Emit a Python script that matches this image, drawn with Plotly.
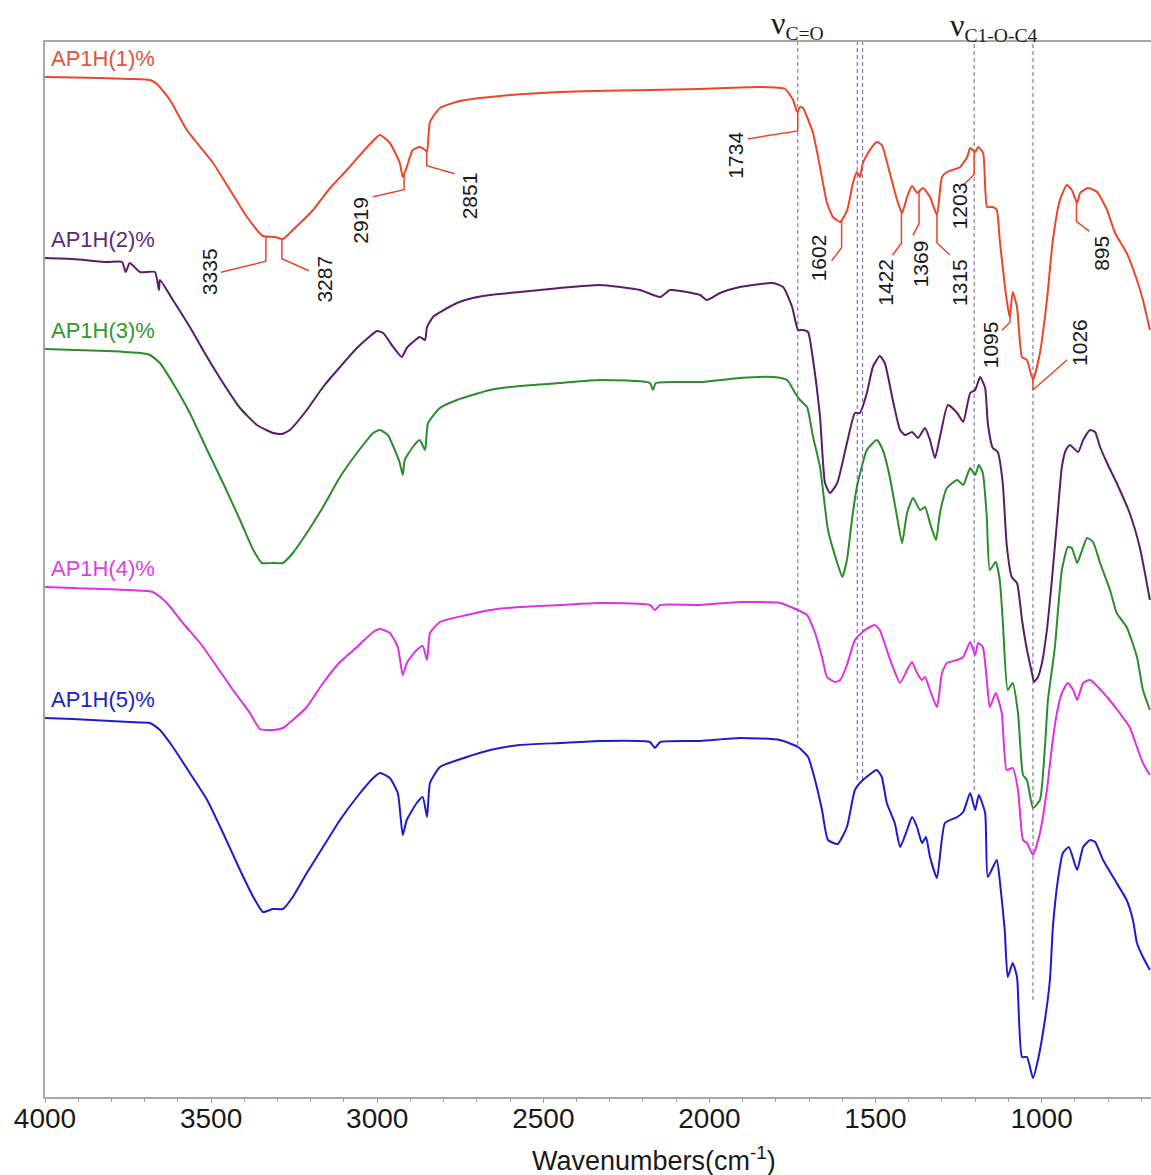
import numpy as np
import plotly.graph_objects as go

# FTIR spectra of the AP1H films: (wavenumber cm-1, offset transmittance a.u.)
ap1h1 = [(4000,102.0),(3834,101.9),(3745,101.8),(3684,101.7),(3663,101.3),(3624,99.7),(3573,96.7),(3494,93.4),
         (3443,90.7),(3392,88.0),(3344,86.1),(3308,86.0),(3284,85.8),(3254,86.7),(3193,88.7),(3142,90.9),(3091,92.7),
         (3030,95.0),(2992,96.2),(2962,95.4),(2932,93.4),(2923,92.0),(2911,93.0),(2893,94.7),(2872,95.0),(2856,94.7),
         (2850,94.5),(2841,97.5),(2811,98.9),(2751,99.6),(2630,100.1),(2450,100.5),(2179,100.7),(2028,100.8),
         (1848,101.0),(1772,100.8),(1748,99.7),(1736,98.5),(1727,99.0),(1718,98.9),(1706,98.0),(1688,96.4),
         (1667,93.0),(1646,89.4),(1628,88.0),(1606,87.5),(1585,88.7),(1568,91.4),(1556,92.5),(1547,92.0),(1538,93.4),
         (1517,94.7),(1496,95.5),(1481,95.2),(1457,92.4),(1435,89.7),(1420,88.4),(1405,90.0),(1390,91.1),(1375,90.4),
         (1357,90.9),(1336,90.0),(1315,88.2),(1300,92.0),(1285,92.5),(1245,93.0),(1224,94.0),(1215,94.9),(1200,94.5),
         (1191,95.0),(1176,94.4),(1164,89.0),(1147,89.0),(1135,88.7),(1126,85.7),(1105,79.7),(1096,78.0),(1087,80.5),
         (1074,79.0),(1059,74.0),(1044,73.7),(1026,71.7),(1005,74.4),(984,79.7),(966,85.7),(945,89.7),(924,91.2),
         (909,90.7),(893,89.4),(884,90.4),(860,90.9),(833,90.5),(803,88.7),(779,86.4),(744,84.4),(713,81.7),
         (695,79.7),(674,76.7)]

ap1h2 = [(4000,83.9),(3916,83.8),(3813,83.5),(3768,83.5),(3757,82.5),(3745,83.4),(3714,82.5),(3669,82.5),(3657,80.7),
         (3654,81.7),(3615,79.7),(3564,77.0),(3512,74.0),(3464,71.4),(3413,68.9),(3362,67.2),(3314,66.4),(3287,66.3),
         (3263,66.7),(3212,68.7),(3163,71.0),(3112,73.0),(3061,74.9),(3000,76.6),(2982,76.4),(2952,75.0),(2926,74.0),
         (2911,74.9),(2872,76.0),(2856,75.7),(2850,77.0),(2832,78.0),(2760,79.4),(2712,79.9),(2660,80.2),(2571,80.5),
         (2450,80.9),(2330,81.2),(2209,80.7),(2148,80.0),(2118,80.7),(2028,80.2),(2008,79.7),(1968,80.4),(1908,81.0),
         (1809,81.4),(1778,81.0),(1751,79.0),(1733,76.7),(1718,76.7),(1703,76.5),(1688,73.7),(1667,68.0),(1652,61.4),
         (1637,60.4),(1615,61.4),(1586,65.4),(1562,68.4),(1547,68.4),(1526,70.4),(1508,73.0),(1487,74.1),(1472,73.4),
         (1448,69.7),(1426,66.7),(1411,66.2),(1390,66.5),(1372,65.9),(1351,66.9),(1336,65.7),(1321,63.9),(1306,66.0),
         (1282,69.2),(1254,68.4),(1236,67.5),(1215,70.4),(1200,70.7),(1185,72.0),(1170,70.9),(1162,67.4),(1147,64.9),
         (1132,64.5),(1117,61.4),(1105,55.2),(1090,52.0),(1074,51.4),(1059,47.7),(1044,44.7),(1029,42.4),(1023,41.5),
         (1011,42.0),(999,43.4),(984,46.7),(969,51.7),(954,57.4),(939,63.0),(927,64.7),(915,65.2),(890,64.5),
         (875,65.7),(854,66.7),(839,66.5),(824,65.0),(803,63.4),(774,61.4),(735,58.4),(704,54.9),(674,49.7)]

ap1h3 = [(4000,74.8),(3813,74.6),(3714,74.4),(3684,74.2),(3654,73.4),(3615,71.4),(3564,68.4),(3512,64.7),(3464,61.4),
         (3413,57.7),(3373,54.7),(3347,53.4),(3314,53.4),(3284,53.4),(3254,54.4),(3212,56.4),(3163,59.0),(3112,62.0),
         (3061,64.4),(3012,66.4),(2992,66.7),(2968,66.2),(2947,64.7),(2932,63.4),(2923,62.2),(2917,63.7),(2893,65.0),
         (2872,65.7),(2856,64.7),(2847,67.4),(2811,68.9),(2760,69.7),(2660,70.7),(2571,71.1),(2450,71.4),(2330,71.7),
         (2179,71.4),(2170,70.7),(2161,71.4),(2028,71.5),(1908,71.9),(1809,72.0),(1766,71.7),(1742,70.4),(1727,69.7),
         (1706,69.0),(1688,66.0),(1667,63.0),(1643,56.7),(1615,53.4),(1600,52.0),(1586,53.7),(1571,57.7),(1556,61.0),
         (1526,64.7),(1496,65.7),(1478,64.7),(1457,62.0),(1435,58.0),(1420,55.4),(1405,58.4),(1387,59.9),(1366,58.7),
         (1351,59.0),(1336,57.4),(1318,55.7),(1306,58.4),(1285,60.9),(1254,61.7),(1236,61.2),(1215,62.9),(1200,62.2),
         (1189,63.2),(1177,62.4),(1165,58.0),(1156,52.7),(1138,53.5),(1126,51.7),(1117,47.7),(1102,40.7),(1087,41.4),
         (1071,38.4),(1056,32.2),(1044,31.7),(1026,28.9),(1005,29.7),(990,35.0),(981,39.7),(969,42.7),(960,45.0),
         (939,52.7),(921,55.0),(909,54.9),(893,53.4),(878,54.7),(863,55.9),(845,55.5),(824,53.4),(794,50.7),
         (774,48.4),(744,47.0),(713,44.0),(695,40.7),(674,38.7)]

ap1h4 = [(4000,51.0),(3916,50.9),(3745,50.7),(3675,50.5),(3633,49.4),(3585,47.4),(3533,45.4),(3482,43.0),(3434,40.7),
         (3383,38.4),(3353,36.8),(3314,36.7),(3284,36.9),(3254,37.7),(3212,39.0),(3163,41.4),(3112,43.5),(3061,45.0),
         (3012,46.5),(2992,46.8),(2962,46.4),(2938,45.0),(2923,42.2),(2911,43.4),(2881,44.7),(2863,45.1),(2850,43.7),
         (2841,46.4),(2811,47.5),(2730,48.2),(2660,48.7),(2571,49.0),(2450,49.2),(2330,49.4),(2179,49.2),(2164,48.7),
         (2148,49.2),(2028,49.2),(1908,49.5),(1788,49.4),(1748,48.9),(1706,48.2),(1682,46.4),(1661,44.0),(1646,42.0),
         (1622,41.5),(1606,41.7),(1586,43.2),(1562,45.7),(1532,46.7),(1502,47.2),(1487,46.7),(1466,44.7),(1448,43.0),
         (1426,41.4),(1405,42.7),(1390,43.5),(1375,42.4),(1360,41.7),(1351,42.0),(1336,40.7),(1315,39.0),(1300,42.4),
         (1285,43.4),(1254,43.7),(1236,44.0),(1215,45.5),(1200,44.2),(1191,45.4),(1177,45.0),(1165,41.7),(1156,39.0),
         (1138,40.4),(1120,38.4),(1105,32.7),(1087,32.9),(1071,30.7),(1056,25.7),(1044,25.4),(1026,24.2),(1005,26.4),
         (984,30.7),(969,35.0),(954,38.4),(939,40.4),(921,41.4),(905,40.7),(893,39.7),(875,41.4),(854,41.7),
         (803,40.0),(765,38.4),(735,37.0),(713,35.0),(695,33.4),(674,32.2)]

ap1h5 = [(4000,37.9),(3916,37.8),(3745,37.5),(3684,37.4),(3654,36.7),(3615,35.0),(3564,32.4),(3512,29.7),(3464,26.4),
         (3413,22.7),(3373,20.0),(3344,18.5),(3314,18.8),(3284,18.8),(3254,20.0),(3212,22.4),(3163,25.0),(3112,27.7),
         (3061,30.0),(3012,31.9),(2992,32.4),(2962,31.9),(2938,30.4),(2923,26.2),(2911,27.7),(2881,29.4),(2863,30.0),
         (2850,28.0),(2841,31.4),(2811,33.0),(2730,34.0),(2660,34.7),(2571,35.2),(2450,35.4),(2330,35.6),(2179,35.5),
         (2164,34.9),(2148,35.5),(2028,35.6),(1908,35.9),(1788,35.7),(1733,35.0),(1703,34.0),(1682,31.7),(1661,28.7),
         (1643,25.7),(1614,25.3),(1586,27.0),(1562,30.7),(1538,31.7),(1496,32.7),(1481,32.0),(1466,29.4),(1442,27.4),
         (1426,25.0),(1405,26.7),(1390,28.0),(1375,27.0),(1360,25.4),(1348,26.0),(1336,24.0),(1315,21.9),(1291,27.4),
         (1254,28.0),(1236,28.5),(1215,30.4),(1200,28.7),(1189,30.2),(1170,28.4),(1162,22.0),(1135,23.7),(1126,21.7),
         (1111,16.7),(1102,12.0),(1087,13.4),(1074,12.0),(1059,4.0),(1044,4.0),(1026,1.9),(1011,3.7),(990,7.7),
         (975,11.7),(966,17.0),(951,21.7),(936,24.4),(918,25.0),(893,22.7),(875,25.0),(854,25.7),(839,25.5),
         (815,23.7),(774,21.4),(744,19.7),(725,17.7),(713,15.4),(695,14.0),(674,12.7)]

series = [ap1h1, ap1h2, ap1h3, ap1h4, ap1h5]
series_names = ["AP1H(1)%", "AP1H(2)%", "AP1H(3)%", "AP1H(4)%", "AP1H(5)%"]
series_colors = ["#EB4628", "#5A1C6A", "#2A8C2A", "#E130E1", "#1C1CCE"]
label_colors = ["#E8503A", "#5E2A70", "#2E9A2E", "#E040E0", "#2020C8"]

# band positions annotated on AP1H(1)
peak_labels = ["3335", "3287", "2919", "2851", "1734", "1602", "1422", "1369",
               "1315", "1203", "1095", "1026", "895"]
# reference band positions (dashed guides)
guide_bands = [1734, 1555, 1539, 1203, 1026]

# ---- layout geometry ----
W, H = 1151, 1175
ML, MR, MT, MB = 45, 0, 42, 78
X_RANGE = [4000, 670.7]
Y_RANGE = [0, 105.5]
PW, PH = W - ML - MR, H - MT - MB
PX_X = PW / (X_RANGE[0] - X_RANGE[1])     # px per cm-1
PX_Y = PH / (Y_RANGE[1] - Y_RANGE[0])     # px per a.u.

LABEL_FONT = "Liberation Sans, Arial, sans-serif"
SERIF_FONT = "Liberation Serif, Times New Roman, serif"

fig = go.Figure()

# dashed guide lines from the top frame down into the spectra
guide_bottoms = [35.2, 31.7, 31.7, 30.7, 9.7]
for wn, yb in zip(guide_bands, guide_bottoms):
    fig.add_shape(type="line", x0=wn, x1=wn, y0=yb, y1=Y_RANGE[1], xref="x", yref="y",
                  line=dict(color="#7D6DAD", width=1.1, dash="4px,3px"), layer="below")

for data, name, col, lcol in zip(series, series_names, series_colors, label_colors):
    wn, t = zip(*data)
    fig.add_trace(go.Scatter(x=wn, y=t, mode="lines", name=name,
                             line=dict(color=col, width=2, shape="spline", smoothing=0.5),
                             showlegend=False))
    fig.add_annotation(x=wn[0] - 4 / PX_X, y=t[0] + 19 / PX_Y, text=name, showarrow=False,
                       xanchor="left", yanchor="middle",
                       font=dict(family=LABEL_FONT, size=22, color=lcol))

# leader lines and band labels on AP1H(1)
# (drop, end dx, end dy, text dx, text dy) in px relative to the band position
leader_geom = [(25, -45, 11, -57, 10), (20, 27, 12, 43, 20), (16, -31, 7, -43, 31),
               (14, 28, 8, 43, 30), (20, -50, 8, -62, 24), (28, -10, 13, -23, 10),
               (32, -9, 12, -16, 39), (32, -6, 12, 1, 41), (28, 13, 12, 22, 39),
               (23, -10, 10, -15, 32), (8, -8, 8, -20, 23), (10, 34, -30, 46, -48),
               (20, 13, 10, 25, 32)]
red_wn, red_t = zip(*ap1h1)
wn_asc = np.array(red_wn, dtype=float)[::-1]
t_asc = np.array(red_t, dtype=float)[::-1]
for lab, (drop, ex, ey, tx, ty) in zip(peak_labels, leader_geom):
    w = float(lab)
    t0 = float(np.interp(w, wn_asc, t_asc))
    t1 = t0 - drop / PX_Y
    fig.add_trace(go.Scatter(x=[w, w, w - ex / PX_X], y=[t0, t1, t1 - ey / PX_Y], mode="lines",
                             line=dict(color=series_colors[0], width=1.5),
                             hoverinfo="skip", showlegend=False))
    fig.add_annotation(x=w - tx / PX_X, y=t1 - ty / PX_Y, text=lab, textangle=-90,
                       showarrow=False, xanchor="center", yanchor="middle",
                       font=dict(family=LABEL_FONT, size=21, color="#1a1a1a"))

# vibration assignments above the frame
nu_style = "<span style='font-size:32px'>ν</span>"
fig.add_annotation(x=1734, y=1 + 18 / PH, xref="x", yref="paper", text=nu_style + "<sub>C=O</sub>",
                   showarrow=False, xanchor="center", yanchor="middle",
                   font=dict(family=SERIF_FONT, size=28, color="#1a1a1a"))
fig.add_annotation(x=1142, y=1 + 15 / PH, xref="x", yref="paper", text=nu_style + "<sub>C1-O-C4</sub>",
                   showarrow=False, xanchor="center", yanchor="middle",
                   font=dict(family=SERIF_FONT, size=28, color="#1a1a1a"))

# x-axis title
fig.add_annotation(x=(654 - ML) / PW, y=-(1159 - (H - MB)) / PH, xref="paper", yref="paper",
                   text="Wavenumbers(cm<sup>-1</sup>)", showarrow=False,
                   xanchor="center", yanchor="middle",
                   font=dict(family=LABEL_FONT, size=27, color="#1a1a1a"))

fig.update_layout(
    width=W, height=H, margin=dict(l=ML, r=MR, t=MT, b=MB, pad=0),
    paper_bgcolor="white", plot_bgcolor="white", showlegend=False,
    xaxis=dict(range=X_RANGE, tickmode="linear", tick0=0, dtick=500, tickformat="d",
               ticks="outside", ticklen=4, tickwidth=1, tickcolor="#9a9a9a",
               ticklabelstandoff=-9,
               showline=True, linecolor="#A8A8A8", linewidth=2, mirror=True,
               showgrid=False, zeroline=False,
               tickfont=dict(family=LABEL_FONT, size=28, color="#1a1a1a"),
               minor=dict(dtick=100, tick0=0, ticks="outside", ticklen=3,
                          tickcolor="#9a9a9a", showgrid=False)),
    yaxis=dict(range=Y_RANGE, showline=True, linecolor="#A8A8A8", linewidth=2,
               showticklabels=False, ticks="", showgrid=False, zeroline=False),
)

fig.write_html("out.html")
